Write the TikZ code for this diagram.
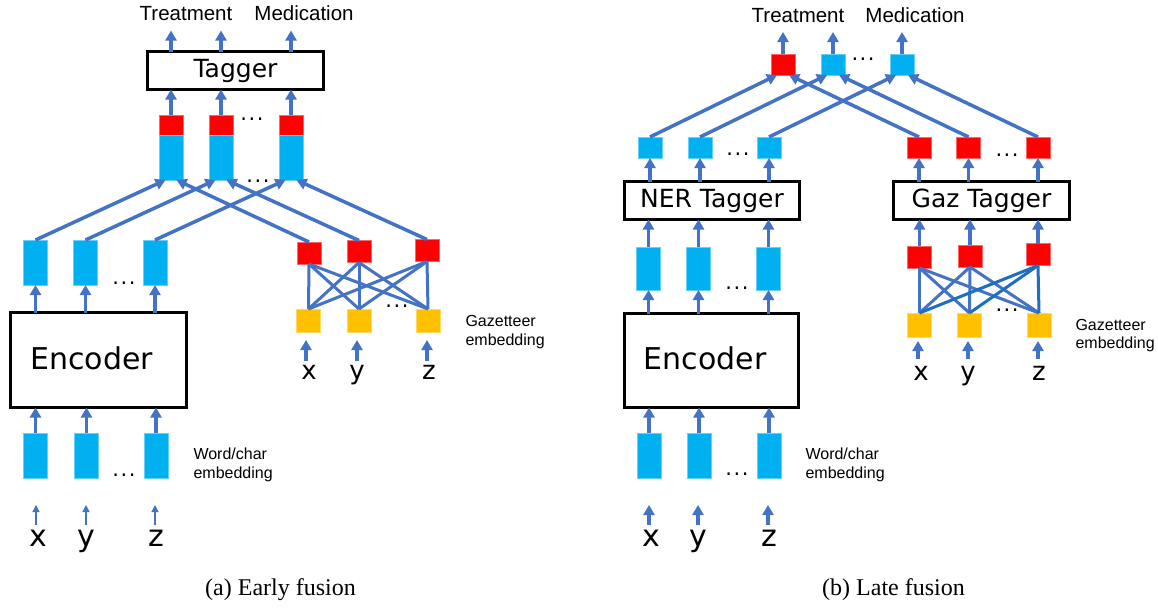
\documentclass[tikz,border=0pt]{standalone}
\usepackage{fontspec}
\usetikzlibrary{arrows.meta}
\newfontfamily\boxfont{DejaVu Sans}
\newfontfamily\lblfont{Liberation Sans}
\newfontfamily\capfont{Liberation Serif}
\definecolor{arrowblue}{HTML}{4472C4}
\definecolor{deepblue}{HTML}{1F6FC0}
\definecolor{cellblue}{HTML}{00B0F0}
\definecolor{cellred}{HTML}{FF0000}
\definecolor{cellgold}{HTML}{FFC000}
\newcommand{\threedots}{.\kern1.5pt.\kern1.5pt.}

\tikzset{
  cell/.style={rectangle, inner sep=0pt, outer sep=0pt, minimum width=24pt,
    fill=#1, draw=#1!60!white, line width=0.6pt},
  blockbox/.style={rectangle, draw=black, line width=3.2pt, inner sep=0pt, outer sep=0pt},
  boxtext/.style={font=\boxfont\fontsize{25}{30}\selectfont},
  arr/.style={draw=arrowblue, line width=3.5pt, -{Triangle[width=11pt,length=10pt]}},
  thinarr/.style={draw=arrowblue, line width=1.3pt, -{Triangle[width=7pt,length=7pt]}},
  cross/.style={draw=arrowblue, line width=3pt},
  crossdeep/.style={draw=deepblue, line width=3pt},
  outlbl/.style={font=\lblfont\fontsize{20.5}{24}\selectfont, anchor=base},
  sidelbl/.style={font=\lblfont\fontsize{16}{19}\selectfont, anchor=base west},
  tok/.style={font=\boxfont\fontsize{30}{36}\selectfont, anchor=base, inner sep=0pt},
  gaztok/.style={font=\boxfont\fontsize{26}{31}\selectfont, anchor=base, inner sep=0pt},
  ell/.style={font=\boxfont\fontsize{21}{25}\selectfont, anchor=base, inner sep=0pt},
  caption/.style={font=\capfont\fontsize{24}{28}\selectfont, anchor=base},
}

\begin{document}
\begin{tikzpicture}[x=1pt, y=-1pt]
\fill[white] (0,0) rectangle (1158,608);
\useasboundingbox (0,0) rectangle (1158,608);

% ================= (a) Early fusion =================
% tagger and its outputs
\node[blockbox, minimum width=176pt, minimum height=38pt] (tagL) at (235.5,70.5) {};
\node[boxtext] (tagLtext) at (tagL) {Tagger};
\node[outlbl] (treatL) at (186,20) {Treatment};
\node[outlbl] (mediL) at (304,20) {Medication};

% concatenated cells (red on top of blue)
\foreach \i/\x in {1/171, 2/221, 3/291} {
  \node[cell=cellred, minimum height=20pt] (sr\i) at (\x,125) {};
  \node[cell=cellblue, minimum height=45pt] (sb\i) at (\x,157.5) {};
  \draw[arr] (sr\i.north) -- (sr\i |- tagL.south);
  \draw[arr] (sr\i |- tagL.north) -- ++(0,-21);
}
\node[ell] (dotsA1) at (252,120) {\threedots};
\node[ell] (dotsA2) at (258,182) {\threedots};

% encoder outputs
\foreach \i/\x in {1/35.5, 2/85.5, 3/155} {
  \node[cell=cellblue, minimum height=45pt] (lb\i) at (\x,262.5) {};
}
\node[ell] (dotsA3) at (124,284) {\threedots};

% gazetteer cells
\node[cell=cellred, minimum height=22pt] (grL1) at (309,253) {};
\node[cell=cellred, minimum height=22pt] (grL2) at (359,251.5) {};
\node[cell=cellred, minimum height=22pt] (grL3) at (427,250.5) {};
\node[cell=cellgold, minimum height=23pt] (gyL1) at (308.5,320.5) {};
\node[cell=cellgold, minimum height=23pt] (gyL2) at (359,320.5) {};
\node[cell=cellgold, minimum height=23pt] (gyL3) at (428,320.5) {};
\foreach \r in {1,2,3} {
  \foreach \s in {1,2,3} {
    \draw[cross] (grL\r.south) -- (gyL\s.north);
  }
}
\node[ell] (dotsA4) at (397,307) {\threedots};

% fusion connectors
\foreach \i in {1,2,3} {
  \draw[arr] (lb\i.north) -- ([xshift=-5.5pt]sb\i.south);
  \draw[arr] (grL\i.north) -- ([xshift=5.5pt]sb\i.south);
}

% encoder
\node[blockbox, minimum width=176pt, minimum height=95pt] (encL) at (98.5,360) {};
\node[font=\boxfont\fontsize{30}{36}\selectfont] (encLtext) at (91.5,358) {Encoder};
\foreach \i in {1,2,3} {
  \draw[arr] (lb\i |- encL.north) -- (lb\i.south);
}

% word/char embeddings
\foreach \i/\x in {1/35.5, 2/86.5, 3/156} {
  \node[cell=cellblue, minimum height=45pt] (wbL\i) at (\x,455.5) {};
  \draw[arr] (wbL\i.north) -- (wbL\i |- encL.south);
}
\node[ell] (dotsA5) at (124,476) {\threedots};
\node[sidelbl] (wcL1) at (190,459) {Word/char};
\node[sidelbl] (wcL2) at (190,478) {embedding};

% inputs
\node[tok] (inL1) at (38,546) {x};
\node[tok] (inL2) at (86,546) {y};
\node[tok] (inL3) at (156,546) {z};
\foreach \i/\x in {1/36, 2/86, 3/155} {
  \coordinate (inLtop\i) at (\x,525);
  \draw[thinarr] (inLtop\i) -- ++(0,-20);
}

% gazetteer inputs
\node[gaztok] (gzL1) at (309,379) {x};
\node[gaztok] (gzL2) at (357,379) {y};
\node[gaztok] (gzL3) at (429,379) {z};
\foreach \i/\x in {1/306, 2/357, 3/427} {
  \coordinate (gzLtop\i) at (\x,361);
  \draw[arr] (gzLtop\i) -- ++(0,-21);
}
\node[sidelbl] (gzlblL1) at (462,326) {Gazetteer};
\node[sidelbl] (gzlblL2) at (462,345) {embedding};

\node[caption] (capA) at (280.5,595) {(a) Early fusion};

% ================= (b) Late fusion =================
\node[outlbl] (treatR) at (798,22) {Treatment};
\node[outlbl] (mediR) at (915,22) {Medication};

% fused outputs
\node[cell=cellred, minimum height=21pt] (tr1) at (783,64.5) {};
\node[cell=cellblue, minimum height=21pt] (tr2) at (833,64.5) {};
\node[cell=cellblue, minimum height=21pt] (tr3) at (902,64.5) {};
\foreach \i in {1,2,3} {
  \draw[arr] (tr\i.north) -- ++(0,-22);
}
\node[ell] (dotsB1) at (863,60) {\threedots};

% NER tagger branch
\node[blockbox, minimum width=175pt, minimum height=38pt] (nerB) at (712,200.5) {};
\node[boxtext] (nerBtext) at (nerB) {NER Tagger};
\foreach \i/\x in {1/650, 2/700, 3/769} {
  \node[cell=cellblue, minimum height=21pt] (no\i) at (\x,147.5) {};
}
\node[ell] (dotsB2) at (738,155) {\threedots};

% Gaz tagger branch
\node[blockbox, minimum width=176pt, minimum height=38pt] (gazB) at (981.5,200.5) {};
\node[boxtext] (gazBtext) at (gazB) {Gaz Tagger};
\foreach \i/\x in {1/919, 2/968.5, 3/1038} {
  \node[cell=cellred, minimum height=21pt] (go\i) at (\x,147.5) {};
}
\node[ell] (dotsB3) at (1007,156) {\threedots};

\foreach \i in {1,2,3} {
  \draw[arr] (no\i.north) -- ([xshift=-6pt]tr\i.south);
  \draw[arr] (go\i.north) -- ([xshift=6pt]tr\i.south);
  \draw[arr] (no\i |- nerB.north) -- (no\i.south);
  \draw[arr] (go\i |- gazB.north) -- (go\i.south);
}

% encoder outputs
\foreach \i/\x in {1/648.5, 2/698.5, 3/768.5} {
  \node[cell=cellblue, minimum height=43pt] (nb\i) at (\x,268.5) {};
  \draw[arr] (nb\i.north) -- (nb\i |- nerB.south);
}
\node[ell] (dotsB4) at (737,289) {\threedots};

% gazetteer cells
\node[cell=cellred, minimum height=22pt] (grR1) at (919.5,257) {};
\node[cell=cellred, minimum height=22pt] (grR2) at (970,256) {};
\node[cell=cellred, minimum height=22pt] (grR3) at (1038,254.5) {};
\node[cell=cellgold, minimum height=24pt] (gyR1) at (919.5,325) {};
\node[cell=cellgold, minimum height=24pt] (gyR2) at (969.5,325) {};
\node[cell=cellgold, minimum height=24pt] (gyR3) at (1039,325) {};
\foreach \r in {1,2} {
  \foreach \s in {1,2,3} {
    \draw[cross] (grR\r.south) -- (gyR\s.north);
  }
}
\foreach \s in {1,2,3} {
  \draw[crossdeep] (grR3.south) -- (gyR\s.north);
}
\node[ell] (dotsB5) at (1007,311) {\threedots};
\foreach \i in {1,2,3} {
  \draw[arr] (grR\i.north) -- (grR\i |- gazB.south);
}

% encoder
\node[blockbox, minimum width=174pt, minimum height=94pt] (encR) at (711.5,360.5) {};
\node[font=\boxfont\fontsize{30}{36}\selectfont] (encRtext) at (705,358.5) {Encoder};
\foreach \i in {1,2,3} {
  \draw[arr] (nb\i |- encR.north) -- (nb\i.south);
}

% word/char embeddings
\foreach \i/\x in {1/649, 2/699, 3/769} {
  \node[cell=cellblue, minimum height=45pt] (wbR\i) at (\x,455.5) {};
  \draw[arr] (wbR\i.north) -- (wbR\i |- encR.south);
}
\node[ell] (dotsB6) at (737,475) {\threedots};
\node[sidelbl] (wcR1) at (802,459) {Word/char};
\node[sidelbl] (wcR2) at (802,478) {embedding};

% inputs
\node[tok] (inR1) at (651,546) {x};
\node[tok] (inR2) at (698,546) {y};
\node[tok] (inR3) at (769,546) {z};
\foreach \i/\x in {1/649, 2/698, 3/768} {
  \coordinate (inRtop\i) at (\x,525);
  \draw[arr] (inRtop\i) -- ++(0,-20);
}

% gazetteer inputs
\node[gaztok] (gzR1) at (921,380) {x};
\node[gaztok] (gzR2) at (968,380) {y};
\node[gaztok] (gzR3) at (1039,380) {z};
\foreach \i/\x in {1/918, 2/968, 3/1038} {
  \coordinate (gzRtop\i) at (\x,359);
  \draw[arr] (gzRtop\i) -- ++(0,-18);
}
\node[sidelbl] (gzlblR1) at (1072,330) {Gazetteer};
\node[sidelbl] (gzlblR2) at (1072,348) {embedding};

\node[caption] (capB) at (893.5,595) {(b) Late fusion};
\end{tikzpicture}
\end{document}
